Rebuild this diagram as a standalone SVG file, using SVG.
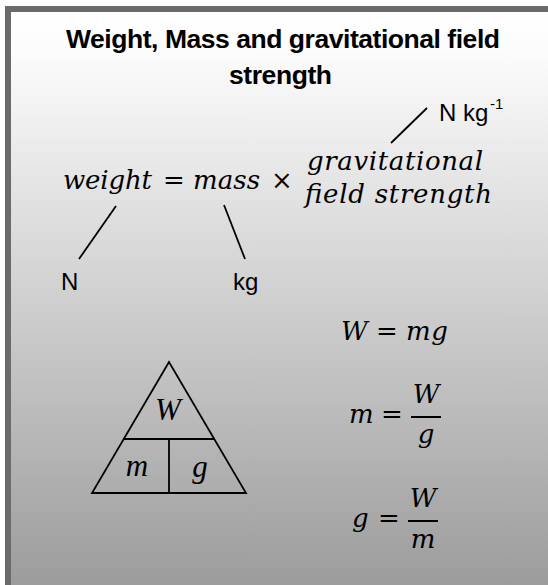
<svg xmlns="http://www.w3.org/2000/svg" width="548" height="585" viewBox="0 0 548 585">
  <defs>
    <linearGradient id="bg" x1="0" y1="12" x2="0" y2="585" gradientUnits="userSpaceOnUse">
      <stop offset="0" stop-color="#ffffff"/>
      <stop offset="0.08" stop-color="#fbfbfb"/>
      <stop offset="1" stop-color="#9c9c9c"/>
    </linearGradient>
  </defs>
  <style>
    .title { font-family: "Liberation Sans", Arial, sans-serif; font-weight: bold; font-size: 26.5px; fill: #000; }
    .unit { font-family: "Liberation Sans", Arial, sans-serif; font-size: 24px; fill: #000; }
    .sup { font-family: "Liberation Sans", Arial, sans-serif; font-size: 15px; fill: #000; }
    .math { font-family: "DejaVu Serif", "Liberation Serif", serif; font-style: italic; font-size: 26px; fill: #000; }
    .op { font-family: "DejaVu Serif", "Liberation Serif", serif; font-size: 26px; fill: #000; }
    .tri { font-family: "Liberation Serif", "Times New Roman", serif; font-style: italic; font-size: 31px; fill: #000; }
    .line { stroke: #000; stroke-width: 1.8; fill: none; }
    .bar { stroke: #000; stroke-width: 2; }
  </style>
  <rect x="0" y="0" width="548" height="585" fill="#ffffff"/>
  <rect x="5" y="6" width="543" height="579" fill="#6b6b6b"/>
  <rect x="11" y="12" width="537" height="573" fill="url(#bg)"/>

  <g id="title">
    <text class="title" x="66" y="48" textLength="434">Weight, Mass and gravitational field</text>
    <text class="title" x="229" y="84" textLength="103">strength</text>
  </g>

  <g id="formula">
    <text class="math" x="63" y="189" textLength="89">weight</text>
    <text class="op" x="174" y="189" text-anchor="middle">=</text>
    <text class="math" x="193" y="189" textLength="67">mass</text>
    <text class="op" x="282" y="189" text-anchor="middle">×</text>
    <text class="math" x="307" y="170" textLength="176">gravitational</text>
    <text class="math" x="305" y="203" textLength="187">field strength</text>
  </g>

  <g id="unit-g">
    <text class="unit" x="439" y="121" font-size="25">N kg</text>
    <text class="sup" x="490" y="109">-1</text>
  </g>
  <g id="unit-weight">
    <text class="unit" x="61" y="290">N</text>
  </g>
  <g id="unit-mass">
    <text class="unit" x="233" y="290">kg</text>
  </g>

  <g id="connectors">
    <line class="line" x1="391" y1="143" x2="427" y2="108"/>
    <line class="line" x1="116" y1="206" x2="79" y2="259"/>
    <line class="line" x1="224" y1="205" x2="245" y2="259"/>
  </g>

  <g id="triangle">
    <path class="line" d="M169,362 L92,493 L246,493 Z M123,439 L215,439 M169,439 L169,493" stroke-width="2"/>
    <text class="tri" x="168" y="420" text-anchor="middle">W</text>
    <text class="tri" x="137" y="476" text-anchor="middle">m</text>
    <text class="tri" x="200" y="477" text-anchor="middle">g</text>
  </g>

  <g id="eq-w">
    <text class="math" x="341" y="340">W</text>
    <text class="op" x="387" y="340" text-anchor="middle">=</text>
    <text class="math" x="406" y="340" textLength="42">mg</text>
  </g>

  <g id="eq-m">
    <text class="math" x="349" y="423">m</text>
    <text class="op" x="392" y="423" text-anchor="middle">=</text>
    <line class="bar" x1="411" y1="417" x2="441" y2="417"/>
    <text class="math" x="426" y="403" text-anchor="middle">W</text>
    <text class="math" x="426" y="443" text-anchor="middle">g</text>
  </g>

  <g id="eq-g">
    <text class="math" x="352" y="527">g</text>
    <text class="op" x="389" y="527" text-anchor="middle">=</text>
    <line class="bar" x1="408" y1="521" x2="438" y2="521"/>
    <text class="math" x="423" y="507" text-anchor="middle">W</text>
    <text class="math" x="423" y="548" text-anchor="middle">m</text>
  </g>
</svg>
